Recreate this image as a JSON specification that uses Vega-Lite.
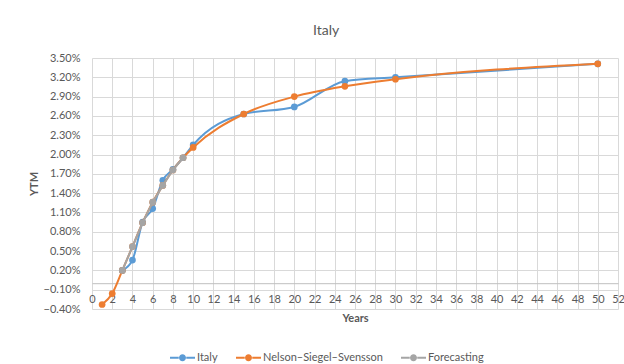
{
  "$schema": "https://vega.github.io/schema/vega-lite/v6.json",
  "autosize": {"type": "none"},
  "width": 526,
  "height": 251,
  "padding": {"left": 92, "top": 58, "right": 6, "bottom": 55},
  "background": "white",
  "title": {"text": "Italy", "fontSize": 14, "fontWeight": "normal", "color": "#595959", "font": "Lato", "anchor": "middle", "frame": "bounds", "offset": 14},
  "data": {"values": [
    {"series": "Italy", "years": 3, "ytm": 0.20},
    {"series": "Italy", "years": 4, "ytm": 0.36},
    {"series": "Italy", "years": 5, "ytm": 0.95},
    {"series": "Italy", "years": 6, "ytm": 1.16},
    {"series": "Italy", "years": 7, "ytm": 1.60},
    {"series": "Italy", "years": 8, "ytm": 1.77},
    {"series": "Italy", "years": 9, "ytm": 1.95},
    {"series": "Italy", "years": 10, "ytm": 2.15},
    {"series": "Italy", "years": 15, "ytm": 2.63},
    {"series": "Italy", "years": 20, "ytm": 2.74},
    {"series": "Italy", "years": 25, "ytm": 3.14},
    {"series": "Italy", "years": 30, "ytm": 3.20},
    {"series": "Italy", "years": 50, "ytm": 3.41},
    {"series": "Nelson–Siegel–Svensson", "years": 1, "ytm": -0.33},
    {"series": "Nelson–Siegel–Svensson", "years": 2, "ytm": -0.16},
    {"series": "Nelson–Siegel–Svensson", "years": 3, "ytm": 0.20},
    {"series": "Nelson–Siegel–Svensson", "years": 4, "ytm": 0.57},
    {"series": "Nelson–Siegel–Svensson", "years": 5, "ytm": 0.94},
    {"series": "Nelson–Siegel–Svensson", "years": 6, "ytm": 1.26},
    {"series": "Nelson–Siegel–Svensson", "years": 7, "ytm": 1.52},
    {"series": "Nelson–Siegel–Svensson", "years": 8, "ytm": 1.76},
    {"series": "Nelson–Siegel–Svensson", "years": 9, "ytm": 1.95},
    {"series": "Nelson–Siegel–Svensson", "years": 10, "ytm": 2.11},
    {"series": "Nelson–Siegel–Svensson", "years": 15, "ytm": 2.63},
    {"series": "Nelson–Siegel–Svensson", "years": 20, "ytm": 2.90},
    {"series": "Nelson–Siegel–Svensson", "years": 25, "ytm": 3.06},
    {"series": "Nelson–Siegel–Svensson", "years": 30, "ytm": 3.17},
    {"series": "Nelson–Siegel–Svensson", "years": 50, "ytm": 3.41},
    {"series": "Forecasting", "years": 3, "ytm": 0.20},
    {"series": "Forecasting", "years": 4, "ytm": 0.57},
    {"series": "Forecasting", "years": 5, "ytm": 0.94},
    {"series": "Forecasting", "years": 6, "ytm": 1.26},
    {"series": "Forecasting", "years": 7, "ytm": 1.52},
    {"series": "Forecasting", "years": 8, "ytm": 1.76},
    {"series": "Forecasting", "years": 9, "ytm": 1.95}
  ]},
  "encoding": {
    "x": {"field": "years", "type": "quantitative",
      "scale": {"domain": [0, 52], "nice": false, "zero": false},
      "axis": {"title": "Years", "values": [0,2,4,6,8,10,12,14,16,18,20,22,24,26,28,30,32,34,36,38,40,42,44,46,48,50,52],
        "offset": -25.8, "ticks": false, "labelPadding": 10, "titlePadding": 8,
        "domainColor": "#bfbfbf", "domainWidth": 1, "gridColor": "#d9d9d9", "labelFlush": false}},
    "y": {"field": "ytm", "type": "quantitative",
      "scale": {"domain": [-0.4, 3.5], "nice": false, "zero": false},
      "axis": {"title": "YTM", "values": [-0.4,-0.1,0.2,0.5,0.8,1.1,1.4,1.7,2.0,2.3,2.6,2.9,3.2,3.5],
        "labelExpr": "format(datum.value, '.2f') + '%'", "domain": false, "ticks": false, "labelPadding": 12, "titlePadding": 4, "gridColor": "#d9d9d9"}},
    "color": {"field": "series", "type": "nominal",
      "scale": {"domain": ["Italy", "Nelson–Siegel–Svensson", "Forecasting"], "range": ["#5B9BD5", "#ED7D31", "#A5A5A5"]},
      "legend": {"title": null, "orient": "none", "direction": "horizontal", "legendX": 78, "legendY": 287,
        "symbolType": "M-1,-0.08L-0.3,-0.08L-0.3,0.08L-1,0.08Z M0.3,-0.08L1,-0.08L1,0.08L0.3,0.08Z M-0.28,0A0.28,0.28 0 1,1 0.28,0A0.28,0.28 0 1,1 -0.28,0Z",
        "symbolSize": 625, "symbolStrokeWidth": 0, "columnPadding": 18, "labelOffset": 2,
        "encode": {"symbols": {"update": {"fill": {"scale": "color", "field": "value"}, "fillOpacity": {"value": 1}, "strokeWidth": {"value": 0}}}}}}
  },
  "layer": [
    {"transform": [{"filter": "datum.series === 'Italy'"}], "mark": {"type": "line", "interpolate": "monotone", "strokeWidth": 2, "point": {"size": 45, "filled": true, "opacity": 1}}},
    {"transform": [{"filter": "datum.series === 'Nelson–Siegel–Svensson'"}], "mark": {"type": "line", "interpolate": "monotone", "strokeWidth": 2, "point": {"size": 45, "filled": true, "opacity": 1}}},
    {"transform": [{"filter": "datum.series === 'Forecasting'"}], "mark": {"type": "line", "interpolate": "linear", "strokeWidth": 2, "point": {"size": 45, "filled": true, "opacity": 1}}}
  ],
  "config": {
    "font": "Lato",
    "view": {"stroke": null},
    "axis": {"labelFont": "Lato", "labelFontSize": 11, "labelColor": "#595959", "titleFont": "Lato", "titleFontSize": 11, "titleFontWeight": "bold", "titleColor": "#595959", "gridColor": "#d9d9d9", "gridWidth": 1},
    "legend": {"labelFont": "Lato", "labelFontSize": 11, "labelColor": "#595959"}
  }
}
